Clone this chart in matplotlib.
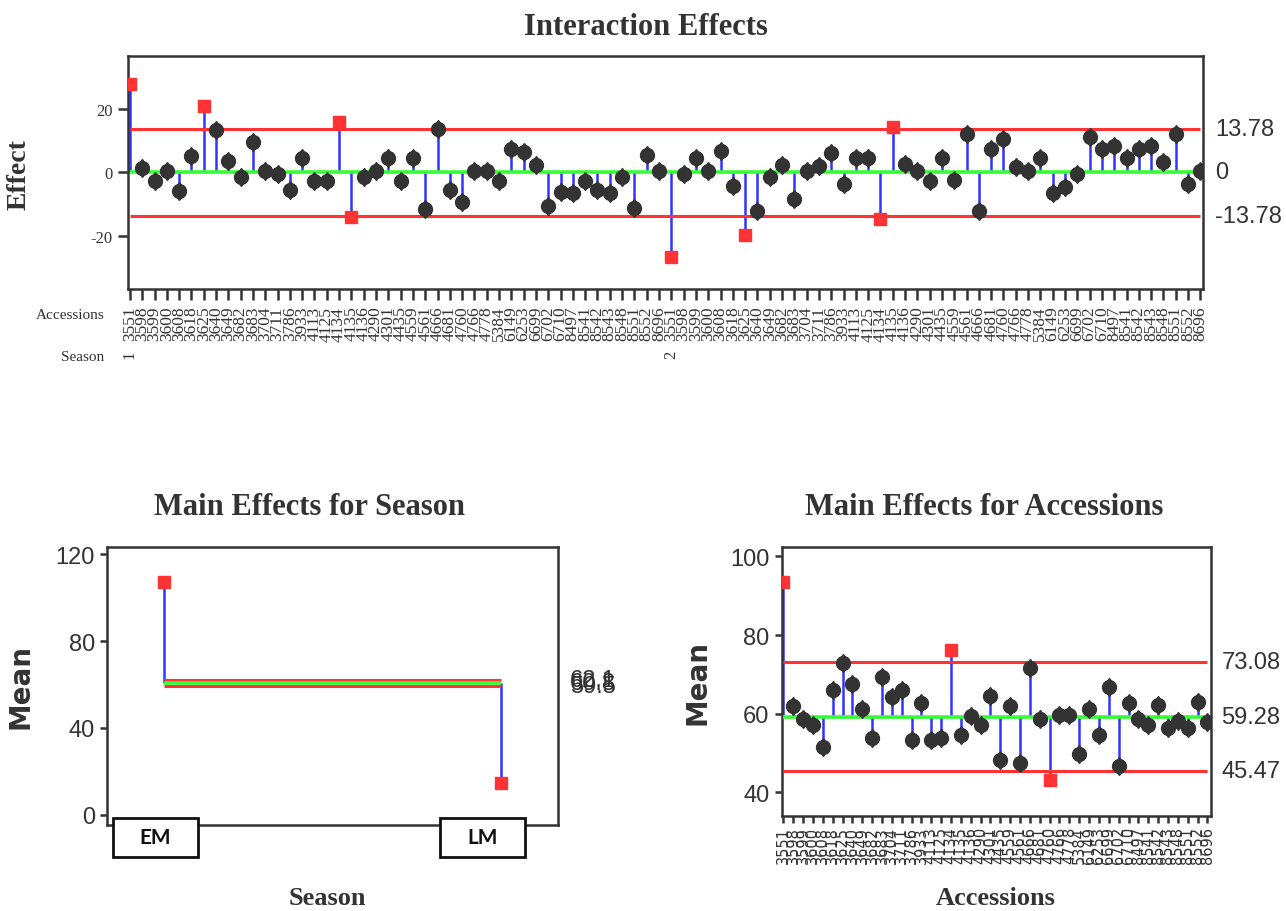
import numpy as np
import matplotlib
matplotlib.use('Agg')
import matplotlib.pyplot as plt
import matplotlib.patches as mpatches
import matplotlib.transforms as mtrans
import matplotlib.font_manager as fm

# ---- data ----
accessions = ['3551', '3598', '3599', '3600', '3608', '3618', '3625', '3640', '3649', '3682',
              '3683', '3704', '3711', '3786', '3933', '4113', '4125', '4134', '4135', '4136',
              '4290', '4301', '4435', '4559', '4561', '4666', '4681', '4760', '4766', '4778',
              '5384', '6149', '6253', '6699', '6702', '6710', '8497', '8541', '8542', '8543',
              '8548', '8551', '8552', '8696']

effect_s1 = [28.0, 1.5, -2.6, 0.5, -5.8, 5.3, 20.8, 13.4, 3.5, -1.6,
             9.5, 0.5, -0.5, -5.6, 4.4, -2.6, -2.6, 16.0, -14.2, -1.6,
             0.5, 4.4, -2.6, 4.4, -11.6, 13.7, -5.6, -9.5, 0.5, 0.5,
             -2.6, 7.4, 6.5, 2.3, -10.5, -6.3, -6.5, -2.6, -5.5, -6.5,
             -1.6, -11.4, 5.5, 0.5]
effect_s2 = [-26.8, -0.5, 4.5, 0.5, 6.6, -4.4, -19.8, -12.3, -1.6, 2.3,
             -8.4, 0.5, 2.1, 6.2, -3.6, 4.4, 4.4, -14.7, 14.3, 2.6,
             0.5, -2.6, 4.5, -2.4, 12.2, -12.2, 7.5, 10.4, 1.6, 0.5,
             4.5, -6.5, -4.5, -0.5, 11.2, 7.5, 8.3, 4.4, 7.3, 8.3,
             3.3, 12.2, -3.6, 0.5]
effect_center = 0.0
effect_limits = [13.78, -13.78]

season_names = ['EM', 'LM']
season_mean = [107.0, 14.6]
season_center = 60.8
season_limits = [62.1, 59.5]

acc_mean = [93.5, 61.9, 58.7, 57.0, 51.5, 65.9, 72.9, 67.6, 61.3, 53.9,
            69.3, 64.2, 65.9, 53.2, 62.8, 53.2, 53.9, 76.1, 54.7, 59.3,
            57.0, 64.4, 48.3, 62.0, 47.5, 71.6, 58.7, 43.2, 59.6, 59.6,
            49.8, 61.1, 54.7, 66.8, 46.6, 62.8, 58.7, 57.0, 62.1, 56.4,
            58.1, 56.4, 63.0, 57.9]
acc_center = 59.28
acc_limits = [73.08, 45.47]

RED = '#ff3333'
GREEN = '#33ff33'
BLUE = '#3333ff'
DARK = '#333333'

names = {f.name for f in fm.fontManager.ttflist}
if 'Liberation Sans Narrow' in names:
    NARROW, BIG = 'Liberation Sans Narrow', 21
else:
    NARROW, BIG = 'Liberation Sans', 17
SERIF = 'Liberation Serif'


def anom(ax, x, y, center, hi, lo):
    x = np.asarray(x, dtype=float)
    y = np.asarray(y, dtype=float)
    ax.vlines(x, center, y, colors=BLUE, lw=1.8, zorder=2)
    ax.hlines([hi, lo], x[0], x[-1], colors=RED, lw=2.2, zorder=3)
    ax.hlines(center, x[0], x[-1], colors=GREEN, lw=2.6, zorder=3)
    out = (y > hi) | (y < lo)
    if (~out).any():
        ax.plot(x[~out], y[~out], 'o', ms=10, color=DARK, mec=DARK, zorder=4)
        ax.plot(x[~out], y[~out], 'd', ms=9.6, color=DARK, mec=DARK, zorder=4)
    ax.plot(x[out], y[out], 's', ms=8.5, color=RED, mec=RED, zorder=5)


def frame(ax):
    for sp in ax.spines.values():
        sp.set_linewidth(1.8)
        sp.set_color(DARK)


fig = plt.figure(figsize=(12.86, 9.12), dpi=100)

# ---- interaction effects ----
ax = fig.add_axes([0.0995, 0.682, 0.836, 0.2555])
xi = np.arange(1, 2 * len(accessions) + 1)
anom(ax, xi, effect_s1 + effect_s2, effect_center, effect_limits[0], effect_limits[1])
frame(ax)
ax.set_xlim(0.84, 88.22)
ax.set_ylim(-36.8, 36.7)
ax.set_yticks([-20, 0, 20])
ax.set_yticklabels(['-20', '0', '20'], fontsize=12, family=SERIF, color=DARK)
ax.set_xticks(xi)
ax.set_xticklabels(accessions * 2, rotation=90, fontsize=12.5, family=SERIF, color=DARK)
ax.tick_params(axis='y', direction='out', length=7, width=1.8, pad=4, color=DARK)
ax.tick_params(axis='x', direction='out', length=8, width=1.8, pad=4, color=DARK)
trans = mtrans.blended_transform_factory(ax.transAxes, ax.transData)
for v, s in zip([effect_limits[0], effect_center, effect_limits[1]], ['13.78', '0', '-13.78']):
    ax.text(1.011, v, s, transform=trans, ha='left', va='center', fontsize=BIG,
            family=NARROW, color=DARK)
strans = mtrans.blended_transform_factory(ax.transData, fig.transFigure)
ax.text(1, 0.611, '1', transform=strans, rotation=90, ha='center', va='center',
        fontsize=12, family=SERIF, color=DARK)
ax.text(len(accessions) + 1, 0.611, '2', transform=strans, rotation=90, ha='center',
        va='center', fontsize=12, family=SERIF, color=DARK)
fig.text(0.081, 0.6546, 'Accessions', ha='right', va='center', fontsize=11,
         family=SERIF, color=DARK)
fig.text(0.081, 0.6075, 'Season', ha='right', va='center', fontsize=11,
         family=SERIF, color=DARK)
fig.text(0.5023, 0.9693, 'Interaction Effects', ha='center', va='center', fontsize=22,
         family=SERIF, weight='bold', color=DARK)
fig.text(0.0148, 0.809, 'Effect', rotation=90, ha='center', va='center', fontsize=20,
         family=SERIF, weight='bold', color=DARK)

# ---- main effects for season ----
ax2 = fig.add_axes([0.0835, 0.0946, 0.3503, 0.3042])
xs = np.arange(1, len(season_names) + 1)
anom(ax2, xs, season_mean, season_center, season_limits[0], season_limits[1])
frame(ax2)
ax2.set_xlim(0.832, 2.17)
ax2.set_ylim(-4.5, 123.1)
ax2.set_yticks([0, 40, 80, 120])
ax2.set_yticklabels(['0', '40', '80', '120'], fontsize=BIG, family=NARROW, color=DARK)
ax2.set_xticks(xs)
ax2.set_xticklabels([str(i) for i in xs], fontsize=BIG, family=NARROW, color=DARK)
ax2.tick_params(axis='both', direction='out', length=5, width=1.8, pad=4, color=DARK)
trans2 = mtrans.blended_transform_factory(ax2.transAxes, ax2.transData)
for v in [season_limits[0], season_center, season_limits[1]]:
    ax2.text(1.027, v, f'{v:.1f}', transform=trans2, ha='left', va='center', fontsize=BIG,
             family=NARROW, color=DARK)
for x0, name in zip([0.0879, 0.3421], season_names):
    fig.add_artist(mpatches.Rectangle((x0, 0.0592), 0.0661, 0.0428, transform=fig.transFigure,
                                      fc='white', ec='#111111', lw=2, zorder=10))
    fig.text(x0 + 0.0661 / 2, 0.0592 + 0.0428 / 2, name, ha='center', va='center',
             fontsize=15, family='Lato', weight='bold', color='#111111', zorder=11)
fig.text(0.241, 0.444, 'Main Effects for Season', ha='center', va='center', fontsize=22,
         family=SERIF, weight='bold', color=DARK)
fig.text(0.2547, 0.0143, 'Season', ha='center', va='center', fontsize=19,
         family=SERIF, weight='bold', color=DARK)
fig.text(0.0156, 0.2478, 'Mean', rotation=90, ha='center', va='center', fontsize=20,
         family='DejaVu Sans', weight='bold', color=DARK)

# ---- main effects for accessions ----
ax3 = fig.add_axes([0.6079, 0.1038, 0.3336, 0.2950])
xa = np.arange(1, len(accessions) + 1)
anom(ax3, xa, acc_mean, acc_center, acc_limits[0], acc_limits[1])
frame(ax3)
ax3.set_xlim(0.84, 44.34)
ax3.set_ylim(33.9, 102.3)
ax3.set_yticks([40, 60, 80, 100])
ax3.set_yticklabels(['40', '60', '80', '100'], fontsize=BIG, family=NARROW, color=DARK)
ax3.set_xticks(xa)
ax3.set_xticklabels(accessions, rotation=90, fontsize=10.5, family='DejaVu Sans', color=DARK)
ax3.tick_params(axis='y', direction='out', length=5, width=1.8, pad=4, color=DARK)
ax3.tick_params(axis='x', direction='out', length=5, width=1.8, pad=2, color=DARK)
trans3 = mtrans.blended_transform_factory(ax3.transAxes, ax3.transData)
for v in [acc_limits[0], acc_center, acc_limits[1]]:
    ax3.text(1.025, v, f'{v:.2f}', transform=trans3, ha='left', va='center', fontsize=BIG,
             family=NARROW, color=DARK)
fig.text(0.765, 0.444, 'Main Effects for Accessions', ha='center', va='center', fontsize=22,
         family=SERIF, weight='bold', color=DARK)
fig.text(0.7739, 0.0143, 'Accessions', ha='center', va='center', fontsize=19,
         family=SERIF, weight='bold', color=DARK)
fig.text(0.5424, 0.2511, 'Mean', rotation=90, ha='center', va='center', fontsize=20,
         family='DejaVu Sans', weight='bold', color=DARK)

fig.savefig('out.png', dpi=100)
